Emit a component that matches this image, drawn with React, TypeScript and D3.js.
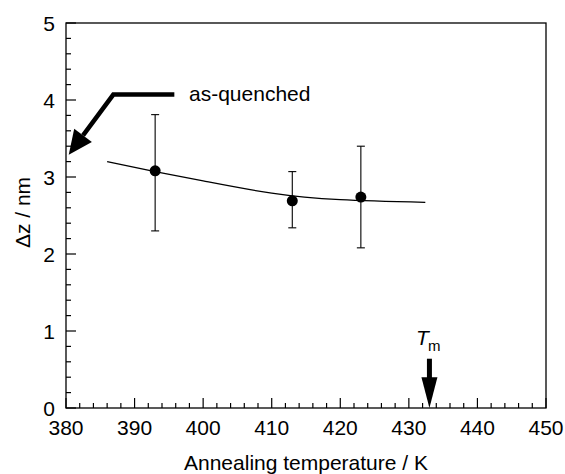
import React from "react";
import * as d3 from "d3";

// annealing temperature (K), measured width dz (nm) with error bars
const temps = [393, 413, 423];
const dz = [3.08, 2.69, 2.74];
const errHi = [3.81, 3.07, 3.4];
const errLo = [2.3, 2.34, 2.08];

// fitted curve
const fitT = [386, 393, 400, 410, 420, 432.4];
const fitZ = [3.2, 3.07, 2.95, 2.79, 2.705, 2.67];

const xTicks = [380, 390, 400, 410, 420, 430, 440, 450];
const yTicks = [0, 1, 2, 3, 4, 5];

// annotations (data coords)
const asQuenched = [[395.8, 4.07], [386.9, 4.07], [380.4, 3.29]];
const tm = 433;

const W = 565, H = 474;
const m = { l: 66, t: 23, r: 19, b: 66 };
const font = "'Liberation Sans', Arial, Helvetica, sans-serif";

export default function App() {
  const x = d3.scaleLinear().domain([380, 450]).range([m.l, W - m.r]);
  const y = d3.scaleLinear().domain([0, 5]).range([H - m.b, m.t]);
  const x0 = x(380), y0 = y(0);

  const xMinor = d3.range(380, 450.1, 2).filter(v => v % 10 !== 0);
  const yMinor = d3.range(0, 5.01, 0.2).map(v => +v.toFixed(1)).filter(v => v % 1 !== 0);

  const fit = d3.line<number>().x((_, i) => x(fitT[i])).y(d => y(d)).curve(d3.curveNatural)(fitZ) || "";

  // as-quenched arrow
  const pts = asQuenched.map(p => [x(p[0]), y(p[1])]);
  const [bx, by] = pts[1];
  const [tx, ty] = pts[2];
  const ang = Math.atan2(ty - by, tx - bx);
  const headL = 24, headW = 11;
  const hx = tx - headL * Math.cos(ang), hy = ty - headL * Math.sin(ang);
  const px = -Math.sin(ang), py = Math.cos(ang);
  const head = `M${tx},${ty}L${hx + px * headW},${hy + py * headW}L${hx - px * headW},${hy - py * headW}Z`;
  const shaft = `M${pts[0][0]},${pts[0][1]}L${bx},${by}L${hx},${hy}`;

  // Tm arrow
  const ax = x(tm);
  const aTop = y(0.64), aHead = y(0.4);

  return (
    <svg width={W} height={H} style={{ position: "absolute", left: 0, top: 0 }} fontFamily={font}>
      <rect x={0} y={0} width={W} height={H} fill="#fff" />
      {/* frame */}
      <rect x={x0} y={m.t} width={W - m.r - m.l} height={y0 - m.t} fill="none" stroke="#000" strokeWidth={1.3} />
      {/* ticks */}
      {xTicks.map(v => (
        <g key={"xt" + v}>
          <line x1={x(v)} x2={x(v)} y1={y0} y2={y0 - 10} stroke="#000" strokeWidth={1.2} />
          <text x={x(v)} y={y0 + 27} fontSize={21} textAnchor="middle">{v}</text>
        </g>
      ))}
      {xMinor.map(v => (
        <line key={"xm" + v} x1={x(v)} x2={x(v)} y1={y0} y2={y0 - 5} stroke="#000" strokeWidth={1.2} />
      ))}
      {yTicks.map(v => (
        <g key={"yt" + v}>
          <line x1={x0} x2={x0 + 10} y1={y(v)} y2={y(v)} stroke="#000" strokeWidth={1.2} />
          <text x={x0 - 11} y={y(v) + 7.5} fontSize={21} textAnchor="end">{v}</text>
        </g>
      ))}
      {yMinor.map(v => (
        <line key={"ym" + v} x1={x0} x2={x0 + 5} y1={y(v)} y2={y(v)} stroke="#000" strokeWidth={1.2} />
      ))}
      {/* axis titles */}
      <text x={(x0 + x(450)) / 2} y={470} fontSize={21} textAnchor="middle">Annealing temperature / K</text>
      <text transform={`translate(30,${(m.t + y0) / 2 - 3}) rotate(-90)`} fontSize={21} textAnchor="middle">Δz / nm</text>
      {/* fit */}
      <path d={fit} fill="none" stroke="#000" strokeWidth={1.3} />
      {/* error bars and points */}
      {temps.map((t, i) => (
        <g key={"p" + t}>
          <line x1={x(t)} x2={x(t)} y1={y(errHi[i])} y2={y(errLo[i])} stroke="#000" strokeWidth={1.1} />
          <line x1={x(t) - 4} x2={x(t) + 4} y1={y(errHi[i])} y2={y(errHi[i])} stroke="#000" strokeWidth={1.1} />
          <line x1={x(t) - 4} x2={x(t) + 4} y1={y(errLo[i])} y2={y(errLo[i])} stroke="#000" strokeWidth={1.1} />
          <circle cx={x(t)} cy={y(dz[i])} r={5.5} fill="#000" />
        </g>
      ))}
      {/* as-quenched annotation */}
      <path d={shaft} fill="none" stroke="#000" strokeWidth={4.5} strokeLinejoin="miter" />
      <path d={head} fill="#000" />
      <text x={189} y={101} fontSize={21}>as-quenched</text>
      {/* Tm arrow */}
      <text x={416} y={345} fontSize={21} fontStyle="italic">T</text>
      <text x={428} y={351} fontSize={15}>m</text>
      <line x1={ax} x2={ax} y1={aTop} y2={aHead + 1} stroke="#000" strokeWidth={5} />
      <path d={`M${ax - 8},${aHead}L${ax + 8},${aHead}L${ax},${y0}Z`} fill="#000" />
    </svg>
  );
}
